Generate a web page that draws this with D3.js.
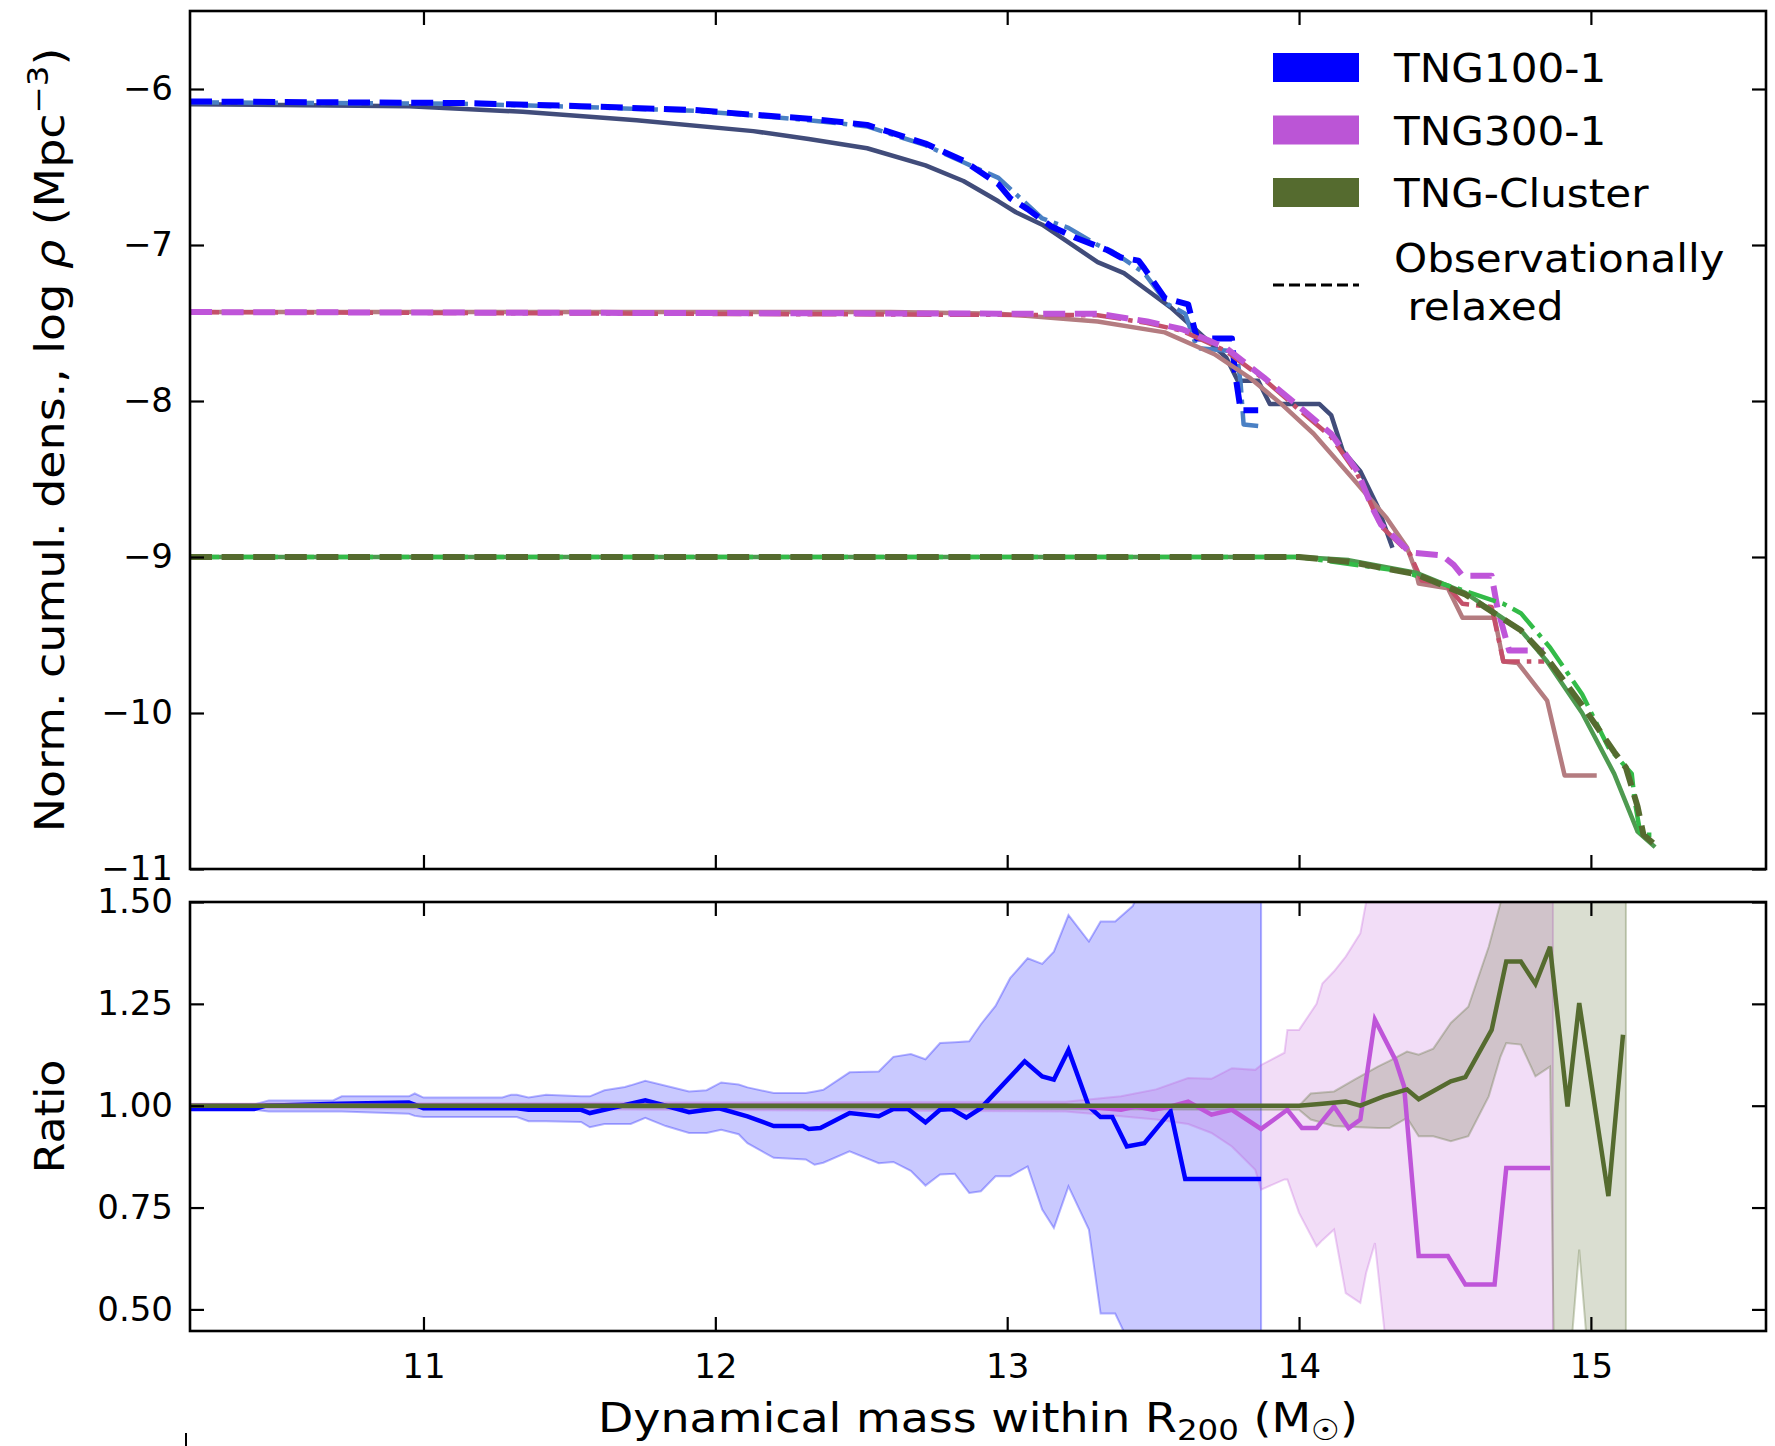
<!DOCTYPE html>
<html>
<head>
<meta charset="utf-8">
<script src="https://cdn.jsdelivr.net/npm/d3@7"></script>
<style>
  body { margin: 0; background: #fff; }
  svg { display: block; font-family: "DejaVu Sans", sans-serif; }
</style>
</head>
<body>
<div id="chart"></div>
<script>
{
    /*#########
      Data
    #########*/

    // top panel: [log M200, log rho]
    const tng100All = [[10.2,-6.097],[10.95,-6.11],[11.34,-6.146],[11.73,-6.2],[12.13,-6.27],[12.32,-6.32],[12.52,-6.38],[12.72,-6.49],[12.85,-6.59],[12.97,-6.72],[13.03,-6.79],[13.12,-6.87],[13.2,-6.97],[13.31,-7.11],[13.4,-7.18],[13.48,-7.29],[13.56,-7.4],[13.65,-7.55],[13.75,-7.72],[13.79,-7.87],[13.86,-7.87],[13.9,-8.02],[14.07,-8.02],[14.11,-8.09],[14.15,-8.32],[14.21,-8.45],[14.27,-8.68],[14.32,-8.94]]
    const tng100Relaxed = [[10.2,-6.08],[11.14,-6.09],[11.54,-6.11],[11.93,-6.135],[12.13,-6.165],[12.32,-6.19],[12.52,-6.23],[12.72,-6.35],[12.85,-6.46],[12.97,-6.61],[13.01,-6.7],[13.07,-6.77],[13.15,-6.88],[13.23,-6.95],[13.34,-7.03],[13.39,-7.08],[13.45,-7.1],[13.47,-7.15],[13.54,-7.34],[13.62,-7.38],[13.65,-7.6],[13.77,-7.6],[13.78,-7.81],[13.8,-8.06],[13.86,-8.06]]
    const tng100RelaxedAlt = [[10.2,-6.085],[11.14,-6.095],[11.54,-6.115],[11.93,-6.14],[12.13,-6.17],[12.32,-6.2],[12.52,-6.24],[12.72,-6.36],[12.85,-6.47],[12.97,-6.57],[13.12,-6.83],[13.21,-6.89],[13.31,-7.0],[13.36,-7.04],[13.47,-7.18],[13.55,-7.38],[13.61,-7.44],[13.65,-7.66],[13.77,-7.68],[13.79,-7.74],[13.8,-7.89],[13.81,-8.15],[13.86,-8.16]]

    const tng300All = [[10.2,-7.43],[12.6,-7.43],[12.97,-7.44],[13.31,-7.49],[13.54,-7.56],[13.71,-7.7],[13.83,-7.85],[13.94,-8.02],[14.05,-8.21],[14.19,-8.51],[14.3,-8.75],[14.37,-8.94],[14.4,-9.09],[14.41,-9.17],[14.51,-9.2],[14.56,-9.39],[14.67,-9.39],[14.7,-9.67],[14.75,-9.68],[14.85,-9.92],[14.91,-10.4],[15.02,-10.4]]
    const tng300Relaxed = [[10.2,-7.43],[12.97,-7.44],[13.31,-7.44],[13.48,-7.49],[13.6,-7.54],[13.75,-7.66],[13.88,-7.85],[13.99,-8.02],[14.11,-8.21],[14.2,-8.45],[14.25,-8.68],[14.28,-8.79],[14.38,-8.97],[14.49,-8.99],[14.53,-9.05],[14.56,-9.12],[14.66,-9.12],[14.68,-9.33],[14.72,-9.6],[14.84,-9.6]]
    const tng300RelaxedAlt = [[10.2,-7.43],[13.31,-7.45],[13.48,-7.5],[13.6,-7.55],[13.75,-7.68],[13.88,-7.86],[13.99,-8.04],[14.11,-8.23],[14.2,-8.47],[14.28,-8.8],[14.38,-8.98],[14.42,-9.15],[14.5,-9.17],[14.56,-9.3],[14.66,-9.32],[14.7,-9.67],[14.84,-9.67]]

    const clusterAll = [[10.2,-9.0],[14.0,-9.0],[14.17,-9.02],[14.4,-9.1],[14.57,-9.23],[14.76,-9.47],[14.85,-9.67],[14.97,-10.0],[15.08,-10.39],[15.16,-10.76],[15.22,-10.86]]
    const clusterRelaxed = [[10.2,-9.0],[14.0,-9.0],[14.17,-9.03],[14.4,-9.11],[14.57,-9.24],[14.76,-9.47],[14.85,-9.65],[14.97,-9.95],[15.08,-10.25],[15.12,-10.35],[15.16,-10.6],[15.18,-10.78],[15.23,-10.86]]
    const clusterRelaxedAlt = [[10.2,-9.0],[14.0,-9.0],[14.35,-9.09],[14.54,-9.2],[14.7,-9.3],[14.76,-9.36],[14.86,-9.58],[14.97,-9.88],[15.06,-10.22],[15.14,-10.39],[15.15,-10.56],[15.17,-10.78],[15.21,-10.78]]

    // bottom panel: ratio lines [log M200, ratio]
    const ratio100 = [[10.2,0.992],[10.42,0.992],[10.46,1.0],[10.71,1.005],[10.95,1.008],[11.0,0.994],[11.32,0.994],[11.36,0.99],[11.54,0.99],[11.57,0.982],[11.62,0.99],[11.76,1.013],[11.83,1.0],[11.91,0.984],[12.01,0.994],[12.11,0.974],[12.2,0.95],[12.3,0.95],[12.32,0.943],[12.36,0.945],[12.46,0.982],[12.56,0.974],[12.61,0.992],[12.66,0.992],[12.72,0.959],[12.77,0.99],[12.81,0.992],[12.86,0.971],[12.91,0.994],[13.06,1.109],[13.12,1.072],[13.16,1.064],[13.21,1.137],[13.28,0.998],[13.32,0.972],[13.36,0.972],[13.41,0.9],[13.47,0.908],[13.56,0.986],[13.61,0.82],[13.87,0.82]]
    const ratio300 = [[10.2,1.0],[13.2,1.0],[13.28,0.997],[13.39,0.99],[13.44,0.998],[13.5,0.99],[13.56,0.998],[13.62,1.01],[13.7,0.978],[13.77,0.99],[13.87,0.943],[13.96,0.99],[14.01,0.945],[14.06,0.945],[14.12,0.998],[14.17,0.945],[14.21,0.966],[14.26,1.211],[14.33,1.113],[14.36,1.047],[14.41,0.631],[14.51,0.631],[14.57,0.561],[14.67,0.561],[14.71,0.847],[14.86,0.847]]
    const ratioCluster = [[10.2,1.0],[14.0,1.0],[14.08,1.005],[14.16,1.01],[14.21,1.0],[14.29,1.023],[14.37,1.04],[14.41,1.016],[14.52,1.06],[14.57,1.07],[14.66,1.186],[14.71,1.354],[14.76,1.354],[14.81,1.299],[14.86,1.39],[14.92,0.998],[14.96,1.252],[15.06,0.778],[15.11,1.174]]

    // bottom panel: scatter bands [log M200, low, high]
    const band100 = [[10.2,0.99,1.003],[10.42,0.99,1.003],[10.47,0.986,1.013],[10.69,0.986,1.013],[10.72,0.986,1.023],[10.95,0.98,1.023],[10.97,0.975,1.03],[11.0,0.972,1.02],[11.27,0.972,1.02],[11.3,0.972,1.027],[11.32,0.972,1.027],[11.36,0.962,1.02],[11.42,0.962,1.027],[11.54,0.96,1.023],[11.57,0.947,1.023],[11.62,0.955,1.038],[11.69,0.955,1.046],[11.71,0.955,1.05],[11.76,0.97,1.061],[11.83,0.95,1.049],[11.91,0.933,1.035],[11.97,0.933,1.038],[12.02,0.941,1.057],[12.08,0.93,1.052],[12.11,0.908,1.045],[12.2,0.872,1.031],[12.31,0.868,1.031],[12.34,0.855,1.035],[12.37,0.86,1.039],[12.46,0.888,1.082],[12.56,0.859,1.084],[12.61,0.862,1.12],[12.67,0.84,1.127],[12.72,0.804,1.114],[12.77,0.831,1.154],[12.82,0.833,1.156],[12.87,0.786,1.158],[12.91,0.79,1.2],[12.96,0.827,1.245],[13.01,0.827,1.313],[13.07,0.851,1.362],[13.12,0.745,1.348],[13.16,0.7,1.378],[13.21,0.802,1.468],[13.28,0.696,1.403],[13.32,0.49,1.452],[13.37,0.49,1.452],[13.43,0.4,1.49],[13.5,0.3,1.6],[13.87,0.3,1.8]]
    const band300 = [[10.2,0.995,1.005],[13.2,0.986,1.01],[13.39,0.974,1.023],[13.51,0.966,1.04],[13.62,0.955,1.068],[13.7,0.933,1.066],[13.77,0.9,1.092],[13.85,0.843,1.088],[13.87,0.794,1.1],[13.95,0.819,1.13],[13.96,0.819,1.186],[14.0,0.737,1.186],[14.06,0.655,1.25],[14.08,0.67,1.3],[14.12,0.696,1.33],[14.16,0.54,1.366],[14.21,0.516,1.423],[14.23,0.59,1.5],[14.26,0.663,1.6],[14.3,0.4,1.7],[14.87,0.3,1.8]]
    const bandCluster = [[10.2,0.997,1.003],[14.0,0.99,1.0],[14.04,0.966,1.03],[14.12,0.95,1.035],[14.19,0.948,1.064],[14.27,0.945,1.096],[14.31,0.945,1.11],[14.37,0.97,1.133],[14.41,0.925,1.125],[14.46,0.925,1.14],[14.52,0.913,1.203],[14.58,0.925,1.243],[14.65,1.023,1.39],[14.69,1.12,1.497],[14.71,1.154,1.6],[14.76,1.15,1.7],[14.81,1.072,1.7],[14.86,1.096,1.8],[14.875,0.3,1.8],[14.92,0.3,1.8],[14.96,0.647,1.8],[15.0,0.3,1.8],[15.12,0.3,1.8]]

    // ticks and legend
    const xTicks = [11, 12, 13, 14, 15]
    const densTicks = [-11, -10, -9, -8, -7, -6]
    const ratioTicks = [0.5, 0.75, 1.0, 1.25, 1.5]
    const legendNames = ['TNG100-1', 'TNG300-1', 'TNG-Cluster']

    /*#########
      Layout
    #########*/
    const W = 1775, H = 1446
    const xLeft = 190, xRight = 1766
    const top1 = 11, bot1 = 869
    const top2 = 902, bot2 = 1331

    const svg = d3.select('#chart').append('svg')
        .attr('width', W)
        .attr('height', H)
        .style('background', '#fff')

    const x = d3.scaleLinear().domain([10.2, 15.6]).range([xLeft, xRight])
    const yDens = d3.scaleLinear().domain([-11, -5.5]).range([bot1, top1])
    const yRatio = d3.scaleLinear().domain([0.447, 1.5]).range([bot2, top2])

    //Clip paths
    const defs = svg.append('defs')
    defs.append('clipPath').attr('id', 'clipTop').append('rect')
        .attr('x', xLeft).attr('y', top1).attr('width', xRight - xLeft).attr('height', bot1 - top1)
    defs.append('clipPath').attr('id', 'clipBot').append('rect')
        .attr('x', xLeft).attr('y', top2).attr('width', xRight - xLeft).attr('height', bot2 - top2)

    /*#########
      Top panel
    #########*/
    const dashed = '22,9.6'
    const dashDot = '29,7,4.5,7'
    const topSeries = [
        { data: tng100All, color: '#414c7a', width: 4.5, dash: null },
        { data: tng100RelaxedAlt, color: '#4a80c4', width: 4.5, dash: dashDot },
        { data: tng100Relaxed, color: '#0000ff', width: 6, dash: dashed },
        { data: tng300All, color: '#b47c80', width: 4.5, dash: null },
        { data: tng300RelaxedAlt, color: '#c4506a', width: 4.5, dash: dashDot },
        { data: tng300Relaxed, color: '#bf55d9', width: 6, dash: dashed },
        { data: clusterAll, color: '#4e9a50', width: 4.5, dash: null },
        { data: clusterRelaxedAlt, color: '#33bb48', width: 4.5, dash: dashDot },
        { data: clusterRelaxed, color: '#556b2f', width: 6, dash: dashed },
    ]

    const lineTop = d3.line().x(d => x(d[0])).y(d => yDens(d[1]))

    svg.append('g')
        .attr('clip-path', 'url(#clipTop)')
        .selectAll('path')
        .data(topSeries)
        .join('path')
        .attr('d', d => lineTop(d.data))
        .style('fill', 'none')
        .style('stroke', d => d.color)
        .style('stroke-width', d => d.width)
        .style('stroke-dasharray', d => d.dash)
        .style('stroke-linejoin', 'round')

    /*#########
      Bottom panel
    #########*/
    const bands = [
        { data: band100, color: '#0000ff', op: 0.21 },
        { data: band300, color: '#bf55d9', op: 0.2 },
        { data: bandCluster, color: '#556b2f', op: 0.22 },
    ]
    const ratios = [
        { data: ratio100, color: '#0000ff' },
        { data: ratio300, color: '#bf55d9' },
        { data: ratioCluster, color: '#556b2f' },
    ]

    const area = d3.area().x(d => x(d[0])).y0(d => yRatio(d[1])).y1(d => yRatio(d[2]))
    const lineBot = d3.line().x(d => x(d[0])).y(d => yRatio(d[1]))

    const gBot = svg.append('g').attr('clip-path', 'url(#clipBot)')

    gBot.selectAll('path.band')
        .data(bands)
        .join('path')
        .attr('class', 'band')
        .attr('d', d => area(d.data))
        .style('fill', d => d.color)
        .style('fill-opacity', d => d.op)
        .style('stroke', d => d.color)
        .style('stroke-opacity', d => d.op + 0.08)
        .style('stroke-width', 2)

    gBot.selectAll('path.ratio')
        .data(ratios)
        .join('path')
        .attr('class', 'ratio')
        .attr('d', d => lineBot(d.data))
        .style('fill', 'none')
        .style('stroke', d => d.color)
        .style('stroke-width', 4.5)
        .style('stroke-linejoin', 'miter')

    /*#########
      Axes
    #########*/
    const fmtDens = d3.format('d')
    const fmtRatio = d3.format('.2f')

    function drawFrame(y, yTicks, fmt, yTop, yBottom, xLabels) {
        const tl = 14
        const styleAxis = g => {
            g.select('.domain').remove()
            g.selectAll('.tick line').attr('stroke', '#000').attr('stroke-width', 2.2)
            g.selectAll('.tick text').attr('fill', '#000').attr('font-size', 34)
                .attr('font-family', '"DejaVu Sans", sans-serif')
        }
        svg.append('g')
            .attr('transform', 'translate(0,' + yBottom + ')')
            .call(d3.axisBottom(x).tickValues(xTicks).tickSizeInner(-tl).tickSizeOuter(0)
                .tickPadding(20).tickFormat(xLabels ? d3.format('d') : ''))
            .call(styleAxis)
            .selectAll('.tick text').attr('dy', '0.8em')
        svg.append('g')
            .attr('transform', 'translate(0,' + yTop + ')')
            .call(d3.axisTop(x).tickValues(xTicks).tickSizeInner(-tl).tickSizeOuter(0).tickFormat(''))
            .call(styleAxis)
        svg.append('g')
            .attr('transform', 'translate(' + xLeft + ',0)')
            .call(d3.axisLeft(y).tickValues(yTicks).tickSizeInner(-tl).tickSizeOuter(0)
                .tickPadding(17).tickFormat(fmt))
            .call(styleAxis)
        svg.append('g')
            .attr('transform', 'translate(' + xRight + ',0)')
            .call(d3.axisRight(y).tickValues(yTicks).tickSizeInner(-tl).tickSizeOuter(0).tickFormat(''))
            .call(styleAxis)

        svg.append('rect')
            .attr('x', xLeft).attr('y', yTop)
            .attr('width', xRight - xLeft).attr('height', yBottom - yTop)
            .style('fill', 'none').style('stroke', '#000').style('stroke-width', 2.6)
    }

    drawFrame(yDens, densTicks, fmtDens, top1, bot1, false)
    drawFrame(yRatio, ratioTicks, fmtRatio, top2, bot2, true)

    /*#########
      Labels
    #########*/
    const xLab = svg.append('text')
        .attr('transform', 'translate(978,1432) scale(1.12,1)')
        .attr('text-anchor', 'middle')
        .attr('font-size', 41)
        .attr('fill', '#000')
    xLab.append('tspan').text('Dynamical mass within R')
    xLab.append('tspan').attr('font-size', 29).attr('dy', 8).text('200')
    xLab.append('tspan').attr('dy', -8).text(' (M')
    xLab.append('tspan').attr('font-size', 29).attr('dy', 8).text('\u2609')
    xLab.append('tspan').attr('dy', -8).text(')')

    const yLab = svg.append('text')
        .attr('transform', 'translate(64,' + (top1 + bot1) / 2 + ') rotate(-90) scale(1.12,1)')
        .attr('text-anchor', 'middle')
        .attr('font-size', 41)
        .attr('fill', '#000')
    yLab.append('tspan').text('Norm. cumul. dens., log ')
    yLab.append('tspan').attr('font-style', 'italic').text('\u03c1')
    yLab.append('tspan').text(' (Mpc')
    yLab.append('tspan').attr('font-size', 29).attr('dy', -16).text('\u22123')
    yLab.append('tspan').attr('dy', 16).text(')')

    svg.append('text')
        .attr('transform', 'translate(64,' + (top2 + bot2) / 2 + ') rotate(-90) scale(1.08,1)')
        .attr('text-anchor', 'middle')
        .attr('font-size', 41)
        .attr('fill', '#000')
        .text('Ratio')

    /*#########
      Legend
    #########*/
    const legColor = d3.scaleOrdinal().domain(legendNames).range(['#0000ff', '#bb55d6', '#556b2f'])
    const leg = svg.append('g')
    leg.selectAll('rect')
        .data(legendNames)
        .join('rect')
        .attr('x', 1273)
        .attr('y', (d, i) => 53 + i * 62.5)
        .attr('width', 86)
        .attr('height', 29)
        .style('fill', d => legColor(d))
    leg.selectAll('text.name')
        .data(legendNames)
        .join('text')
        .attr('class', 'name')
        .attr('transform', (d, i) => 'translate(1394,' + (82 + i * 62.5) + ') scale(1.08,1)')
        .attr('font-size', 39)
        .attr('fill', '#000')
        .text(d => d)
    leg.append('line')
        .attr('x1', 1273).attr('x2', 1359)
        .attr('y1', 285).attr('y2', 285)
        .style('stroke', '#000').style('stroke-width', 3)
        .style('stroke-dasharray', '11,5')
    leg.append('text')
        .attr('transform', 'translate(1394,272) scale(1.08,1)')
        .attr('font-size', 39).attr('fill', '#000')
        .text('Observationally')
    leg.append('text')
        .attr('transform', 'translate(1394,320) scale(1.08,1)')
        .attr('font-size', 39).attr('fill', '#000')
        .text(' relaxed')
        .attr('xml:space', 'preserve')
        .style('white-space', 'pre')

    //Stray mark at lower left
    svg.append('line')
        .attr('x1', 186).attr('x2', 186).attr('y1', 1433).attr('y2', 1446)
        .style('stroke', '#000').style('stroke-width', 2)
}
</script>
</body>
</html>
